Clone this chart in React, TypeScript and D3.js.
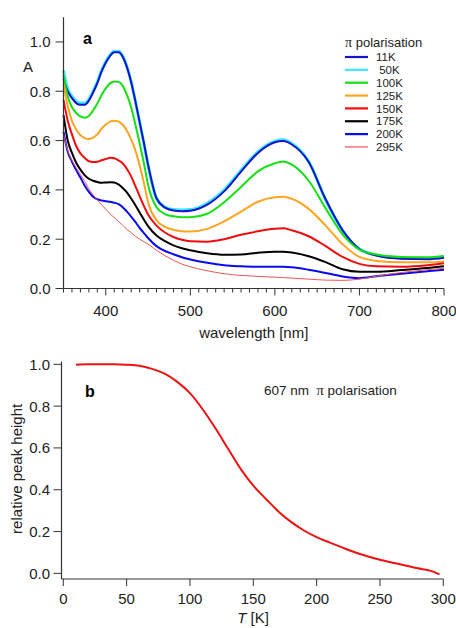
import React from "react";
import * as d3 from "d3";

// ---------- Panel a data ----------
const wavelengths = [350, 355, 360, 365, 370, 375, 380, 385, 390, 395, 400, 405, 410, 415, 420, 425, 430, 435, 440, 445, 450, 460, 470, 480, 490, 500, 520, 540, 560, 580, 600, 610, 620, 640, 660, 680, 700, 720, 750, 780, 800];

const s11K = [0.85, 0.80, 0.772, 0.752, 0.745, 0.745, 0.762, 0.795, 0.833, 0.88, 0.916, 0.943, 0.958, 0.958, 0.94, 0.898, 0.838, 0.76, 0.676, 0.592, 0.503, 0.366, 0.328, 0.316, 0.313, 0.315, 0.34, 0.394, 0.474, 0.55, 0.593, 0.598, 0.584, 0.513, 0.362, 0.237, 0.16, 0.134, 0.121, 0.119, 0.125];
const s50K = [0.884, 0.81, 0.78, 0.76, 0.752, 0.752, 0.768, 0.80, 0.838, 0.885, 0.92, 0.947, 0.962, 0.962, 0.943, 0.90, 0.84, 0.76, 0.675, 0.59, 0.50, 0.365, 0.33, 0.32, 0.318, 0.32, 0.346, 0.40, 0.48, 0.555, 0.598, 0.603, 0.588, 0.515, 0.36, 0.235, 0.16, 0.136, 0.124, 0.122, 0.128];
const s100K = [0.865, 0.78, 0.735, 0.712, 0.698, 0.693, 0.70, 0.722, 0.75, 0.785, 0.812, 0.832, 0.84, 0.838, 0.822, 0.785, 0.735, 0.665, 0.59, 0.51, 0.42, 0.33, 0.302, 0.293, 0.289, 0.289, 0.303, 0.35, 0.412, 0.475, 0.508, 0.515, 0.502, 0.437, 0.325, 0.22, 0.158, 0.138, 0.128, 0.127, 0.132];
const s125K = [0.83, 0.74, 0.68, 0.645, 0.622, 0.61, 0.606, 0.612, 0.625, 0.648, 0.665, 0.677, 0.68, 0.677, 0.664, 0.64, 0.605, 0.56, 0.50, 0.43, 0.35, 0.277, 0.25, 0.238, 0.232, 0.231, 0.242, 0.272, 0.312, 0.352, 0.37, 0.372, 0.364, 0.323, 0.255, 0.18, 0.128, 0.112, 0.106, 0.106, 0.11];
const s150K = [0.765, 0.68, 0.625, 0.578, 0.548, 0.53, 0.516, 0.513, 0.514, 0.52, 0.525, 0.53, 0.528, 0.52, 0.508, 0.485, 0.455, 0.415, 0.375, 0.335, 0.30, 0.255, 0.227, 0.209, 0.198, 0.192, 0.19, 0.2, 0.218, 0.232, 0.242, 0.244, 0.236, 0.212, 0.172, 0.128, 0.10, 0.09, 0.088, 0.094, 0.102];
const s175K = [0.703, 0.60, 0.55, 0.51, 0.482, 0.46, 0.445, 0.437, 0.432, 0.429, 0.43, 0.431, 0.43, 0.422, 0.408, 0.39, 0.365, 0.338, 0.308, 0.28, 0.253, 0.215, 0.192, 0.175, 0.163, 0.155, 0.143, 0.137, 0.138, 0.145, 0.149, 0.149, 0.146, 0.131, 0.107, 0.078, 0.068, 0.068, 0.075, 0.083, 0.09];
const s200K = [0.636, 0.555, 0.515, 0.48, 0.45, 0.418, 0.392, 0.372, 0.362, 0.357, 0.354, 0.352, 0.348, 0.342, 0.33, 0.312, 0.292, 0.27, 0.246, 0.225, 0.205, 0.172, 0.152, 0.139, 0.127, 0.118, 0.104, 0.094, 0.09, 0.088, 0.088, 0.088, 0.086, 0.076, 0.063, 0.049, 0.042, 0.05, 0.06, 0.07, 0.076];
const s295K = [0.625, 0.56, 0.52, 0.49, 0.463, 0.435, 0.405, 0.38, 0.36, 0.34, 0.322, 0.303, 0.288, 0.272, 0.256, 0.24, 0.226, 0.212, 0.20, 0.19, 0.18, 0.155, 0.133, 0.115, 0.099, 0.088, 0.072, 0.06, 0.053, 0.049, 0.046, 0.044, 0.042, 0.038, 0.034, 0.033, 0.038, 0.05, 0.065, 0.076, 0.082];

const seriesLabels = ["11K", " 50K", "100K", "125K", "150K", "175K", "200K", "295K"];
const seriesValues = [s11K, s50K, s100K, s125K, s150K, s175K, s200K, s295K];
const seriesColors = ["#1414c8", "#3ee6ff", "#14e014", "#ffa41e", "#f00c0c", "#000000", "#0a0aee", "#f05454"];
const seriesWidths = [2, 3, 2, 2, 2, 2, 2, 1];
const drawOrder = [1, 0, 2, 3, 4, 5, 6, 7];

const xTicksA = [400, 500, 600, 700, 800];
const xMinorA = d3.range(350, 801, 10);
const yTicksA = [0.0, 0.2, 0.4, 0.6, 0.8, 1.0];

// ---------- Panel b data ----------
const temps = [10, 20, 30, 40, 50, 60, 70, 80, 90, 100, 110, 120, 130, 140, 150, 160, 170, 180, 190, 200, 210, 220, 230, 240, 250, 260, 270, 280, 290, 297];
const peakHeight = [0.998, 1.0, 1.0, 1.0, 0.998, 0.993, 0.978, 0.955, 0.916, 0.862, 0.785, 0.695, 0.597, 0.50, 0.42, 0.356, 0.295, 0.245, 0.205, 0.173, 0.148, 0.124, 0.101, 0.082, 0.065, 0.051, 0.038, 0.024, 0.012, -0.005];
const xTicksB = [0, 50, 100, 150, 200, 250, 300];
const yTicksB = [0.0, 0.2, 0.4, 0.6, 0.8, 1.0];

const FONT = "'Liberation Sans', Arial, sans-serif";
const SERIF = "'Liberation Serif', 'DejaVu Serif', serif";
const TXT = "#222";
const AX = "#333";

export default function App() {
  const xA = d3.scaleLinear().domain([350, 800]).range([63.5, 444]);
  const yA = d3.scaleLinear().domain([0, 1.1]).range([288.5, 17.3]);
  const lineA = (vals: number[]) =>
    d3.line<number>().x((_, i) => xA(wavelengths[i])).y((v) => yA(v)).curve(d3.curveMonotoneX)(vals) || "";

  const xB = d3.scaleLinear().domain([0, 300]).range([63.3, 443.3]);
  const yB = d3.scaleLinear().domain([-0.027, 1.013]).range([579, 361.6]);
  const lineB =
    d3.line<number>().x((_, i) => xB(temps[i])).y((v) => yB(v)).curve(d3.curveMonotoneX)(peakHeight) || "";

  const fmt = d3.format(".1f");
  const legendX = 345;
  const legendY0 = 57;
  const legendDy = 12.85;

  return (
    <svg
      width={456}
      height={628}
      style={{ position: "absolute", left: 0, top: 0, background: "#fff" }}
      fontFamily={FONT}
    >
      <rect x={0} y={0} width={456} height={628} fill="#fff" />

      {/* ---------- Panel a ---------- */}
      <g>
        {drawOrder.map((k) => (
          <path
            key={k}
            d={lineA(seriesValues[k])}
            fill="none"
            stroke={seriesColors[k]}
            strokeWidth={seriesWidths[k]}
            strokeLinejoin="round"
          />
        ))}
        <line x1={xA(350)} x2={xA(350)} y1={yA(1.1)} y2={yA(0)} stroke={AX} strokeWidth={1.2} />
        <line x1={xA(350)} x2={xA(800)} y1={yA(0)} y2={yA(0)} stroke={AX} strokeWidth={1.2} />
        {xMinorA.map((t) => (
          <line
            key={t}
            x1={xA(t)}
            x2={xA(t)}
            y1={yA(0)}
            y2={yA(0) + (t % 100 === 0 ? 7 : 4)}
            stroke={AX}
            strokeWidth={1}
          />
        ))}
        {xTicksA.map((t) => (
          <text key={t} x={xA(t)} y={316} textAnchor="middle" fontSize={15} fill={TXT}>
            {t}
          </text>
        ))}
        {yTicksA.map((t) => (
          <g key={t}>
            <line x1={xA(350) - 8} x2={xA(350)} y1={yA(t)} y2={yA(t)} stroke={AX} strokeWidth={1} />
            <text x={50.5} y={yA(t)} dy="0.36em" textAnchor="end" fontSize={15} fill={TXT}>
              {fmt(t)}
            </text>
          </g>
        ))}
        <text x={28} y={72} textAnchor="middle" fontSize={15} fill={TXT}>A</text>
        <text x={xA(575)} y={337.5} textAnchor="middle" fontSize={15} fill={TXT}>wavelength [nm]</text>
        <text x={83} y={44} fontSize={16} fontWeight="bold" fill="#000">a</text>

        <text x={legendX} y={47} fontSize={13} fill={TXT}>
          <tspan fontFamily={SERIF} fontSize={14}>π</tspan>
          <tspan> polarisation</tspan>
        </text>
        {seriesLabels.map((lab, i) => (
          <g key={lab}>
            <line
              x1={legendX}
              x2={legendX + 23}
              y1={legendY0 + i * legendDy}
              y2={legendY0 + i * legendDy}
              stroke={seriesColors[i]}
              strokeWidth={i === 7 ? 1.2 : 2.2}
            />
            <text
              x={legendX + 31}
              y={legendY0 + i * legendDy}
              dy="0.36em"
              fontSize={11.5}
              fill={TXT}
              style={{ whiteSpace: "pre" }}
            >
              {lab}
            </text>
          </g>
        ))}
      </g>

      {/* ---------- Panel b ---------- */}
      <g>
        <path d={lineB} fill="none" stroke="#ee1111" strokeWidth={2} strokeLinejoin="round" />
        <line x1={61.5} x2={61.5} y1={yB(1.013)} y2={579} stroke={AX} strokeWidth={1.2} />
        <line x1={61.5} x2={xB(300)} y1={579} y2={579} stroke={AX} strokeWidth={1.2} />
        {xTicksB.map((t) => (
          <g key={t}>
            <line x1={xB(t)} x2={xB(t)} y1={579} y2={586} stroke={AX} strokeWidth={1} />
            <text x={xB(t)} y={604} textAnchor="middle" fontSize={15} fill={TXT}>
              {t}
            </text>
          </g>
        ))}
        {yTicksB.map((t) => (
          <g key={t}>
            <line x1={53.5} x2={61.5} y1={yB(t)} y2={yB(t)} stroke={AX} strokeWidth={1} />
            <text x={50} y={yB(t)} dy="0.36em" textAnchor="end" fontSize={15} fill={TXT}>
              {fmt(t)}
            </text>
          </g>
        ))}
        <text
          transform={`translate(22,${yB(0.5)}) rotate(-90)`}
          textAnchor="middle"
          fontSize={15}
          fill={TXT}
        >
          relative peak height
        </text>
        <text x={253} y={623} textAnchor="middle" fontSize={15} fill={TXT}>
          <tspan fontStyle="italic">T</tspan>
          <tspan> [K]</tspan>
        </text>
        <text x={85} y={397} fontSize={16} fontWeight="bold" fill="#000">b</text>
        <text x={264} y={395} fontSize={13.5} fill={TXT} style={{ whiteSpace: "pre" }}>
          <tspan>607 nm  </tspan>
          <tspan fontFamily={SERIF} fontSize={14.5}>π</tspan>
          <tspan> polarisation</tspan>
        </text>
      </g>
    </svg>
  );
}
